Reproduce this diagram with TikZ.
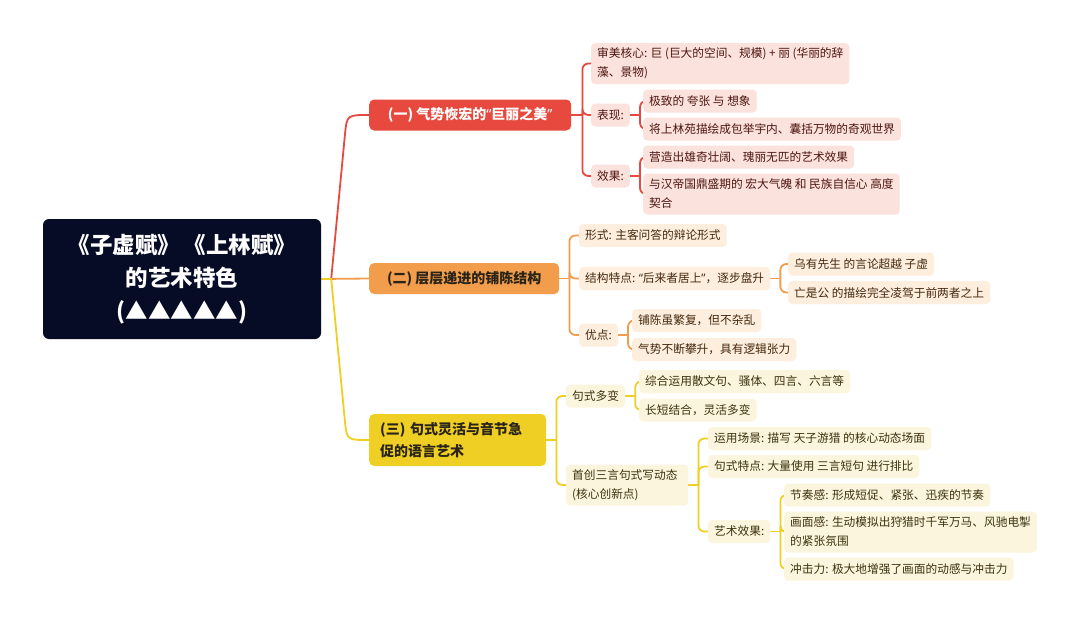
\documentclass[tikz,border=0pt]{standalone}
\usepackage{fontspec}
\setmainfont{Noto Sans CJK SC}
\newfontfamily\latinq{Noto Sans}
\newcommand{\myLQ}{{\latinq “}}
\newcommand{\myRQ}{{\latinq ”}}
\usetikzlibrary{calc,backgrounds}
\definecolor{rootc}{HTML}{060B26}
\definecolor{redc}{HTML}{E8493F}
\definecolor{orac}{HTML}{F29D4B}
\definecolor{yelc}{HTML}{F0CF24}
\definecolor{redl}{HTML}{FBE2DC}
\definecolor{oral}{HTML}{FDEEDD}
\definecolor{yell}{HTML}{FCF5DD}
\definecolor{redt}{HTML}{4E1510}
\definecolor{orat}{HTML}{45280E}
\definecolor{yelt}{HTML}{3C320E}
\definecolor{brt}{HTML}{2A2418}
\begin{document}
\begin{tikzpicture}[x=1pt,y=-1pt,
  leaf/.style={anchor=west, rounded corners=4pt, inner xsep=6pt, inner ysep=0pt,
    minimum height=23pt, font=\fontsize{11.7}{19}\selectfont},
  leafR/.style={leaf, fill=redl, text=redt},
  leafO/.style={leaf, fill=oral, text=orat},
  leafY/.style={leaf, fill=yell, text=yelt},
  twol/.style={align=left, minimum height=41pt, inner ysep=4pt},
  branch/.style={anchor=west, rounded corners=5pt, inner xsep=11pt, inner ysep=0pt,
    minimum height=31pt, font=\fontsize{14}{21.5}\selectfont\bfseries},
  rootbox/.style={fill=rootc, text=white, rounded corners=6pt, minimum width=278pt,
    minimum height=120pt, align=center, font=\fontsize{22.5}{33}\selectfont\bfseries},
  conn/.style={line width=1.8pt, rounded corners=6pt},
  mainc/.style={line width=1.8pt},
]
\useasboundingbox (0,0) rectangle (1080,624);

% root and branches
\node[rootbox] (root) at (182,279) {《子虚赋》\,《上林赋》\\的艺术特色\\(▲▲▲▲▲)};
\node[branch, fill=redc, text=white, minimum width=202pt] (b1) at (369,115) {(一) 气势恢宏的\myLQ 巨丽之美\myRQ};
\node[branch, fill=orac, text=brt, minimum width=190pt] (b2) at (369,278.5) {(二) 层层递进的铺陈结构};
\node[branch, fill=yelc, text=brt, text width=155pt, align=left, minimum height=52pt] (b3) at (369,440) {(三) 句式灵活与音节急\\促的语言艺术};

% branch 1 leaves
\node[leafR, twol] (a1) at (591,63.5) {审美核心: 巨 (巨大的空间、规模) + 丽 (华丽的辞\\藻、景物)};
\node[leafR] (a2) at (591,115) {表现:};
\node[leafR] (a3) at (591,176) {效果:};
\node[leafR] (a21) at (643,101) {极致的 夸张 与 想象};
\node[leafR] (a22) at (643,129) {将上林苑描绘成包举宇内、囊括万物的奇观世界};
\node[leafR] (a31) at (643,157) {营造出雄奇壮阔、瑰丽无匹的艺术效果};
\node[leafR, twol] (a32) at (643,194) {与汉帝国鼎盛期的 宏大气魄 和 民族自信心 高度\\契合};

% branch 2 leaves
\node[leafO] (o1) at (579,235.5) {形式: 主客问答的辩论形式};
\node[leafO] (o2) at (579,278.5) {结构特点: \myLQ 后来者居上\myRQ ，逐步盘升};
\node[leafO] (o3) at (579,335) {优点:};
\node[leafO] (o21) at (788,264) {乌有先生 的言论超越 子虚};
\node[leafO] (o22) at (788,292.5) {亡是公 的描绘完全凌驾于前两者之上};
\node[leafO] (o31) at (632,320.5) {铺陈虽繁复，但不杂乱};
\node[leafO] (o32) at (632,349.5) {气势不断攀升，具有逻辑张力};

% branch 3 leaves
\node[leafY] (y1) at (566,396) {句式多变};
\node[leafY, twol, text width=110pt] (y2) at (566,485) {首创三言句式写动态\\(核心创新点)};
\node[leafY] (y11) at (639,381.5) {综合运用散文句、骚体、四言、六言等};
\node[leafY] (y12) at (639,410) {长短结合，灵活多变};
\node[leafY] (y21) at (708,438.5) {运用场景: 描写 天子游猎 的核心动态场面};
\node[leafY] (y22) at (708,466.5) {句式特点: 大量使用 三言短句 进行排比};
\node[leafY] (y23) at (708,531.5) {艺术效果:};
\node[leafY] (y231) at (784,495) {节奏感: 形成短促、紧张、迅疾的节奏};
\node[leafY, twol] (y232) at (784,532) {画面感: 生动模拟出狩猎时千军万马、风驰电掣\\的紧张氛围};
\node[leafY] (y233) at (784,569) {冲击力: 极大地增强了画面的动感与冲击力};

\begin{scope}[on background layer]
\fill[white] (0,0) rectangle (1080,624);
% root connectors
\coordinate (rj) at ($(root.east)+(10,0)$);
\draw[mainc, orac] (root.east) -- (b2.west);
\draw[mainc, redc] (root.east) -- (rj) -- (345,134) .. controls (347,115) .. (b1.west);
\draw[mainc, yelc] (root.east) -- (rj) -- (345,422) .. controls (347,440) .. (b3.west);

% branch 1
\coordinate (j1) at ($(b1.east)+(11,0)$);
\draw[conn, redc] (b1.east) -- (j1);
\foreach \c in {a1,a2,a3} \draw[conn, redc] (j1) |- (\c.west);
\coordinate (j2) at ($(a2.east)+(10,0)$);
\draw[conn, redc] (a2.east) -- (j2);
\foreach \c in {a21,a22} \draw[conn, redc] (j2) |- (\c.west);
\coordinate (j3) at ($(a3.east)+(10,0)$);
\draw[conn, redc] (a3.east) -- (j3);
\foreach \c in {a31,a32} \draw[conn, redc] (j3) |- (\c.west);

% branch 2
\coordinate (k1) at ($(b2.east)+(10,0)$);
\draw[conn, orac] (b2.east) -- (k1);
\foreach \c in {o1,o2,o3} \draw[conn, orac] (k1) |- (\c.west);
\coordinate (k2) at ($(o2.east)+(10,0)$);
\draw[conn, orac] (o2.east) -- (k2);
\foreach \c in {o21,o22} \draw[conn, orac] (k2) |- (\c.west);
\coordinate (k3) at ($(o3.east)+(10,0)$);
\draw[conn, orac] (o3.east) -- (k3);
\foreach \c in {o31,o32} \draw[conn, orac] (k3) |- (\c.west);

% branch 3
\coordinate (m1) at ($(b3.east)+(10,0)$);
\draw[conn, yelc] (b3.east) -- (m1);
\foreach \c in {y1,y2} \draw[conn, yelc] (m1) |- (\c.west);
\coordinate (m2) at ($(y1.east)+(10,0)$);
\draw[conn, yelc] (y1.east) -- (m2);
\foreach \c in {y11,y12} \draw[conn, yelc] (m2) |- (\c.west);
\coordinate (m3) at ($(y2.east)+(10,0)$);
\draw[conn, yelc] (y2.east) -- (m3);
\foreach \c in {y21,y22,y23} \draw[conn, yelc] (m3) |- (\c.west);
\coordinate (m4) at ($(y23.east)+(10,0)$);
\draw[conn, yelc] (y23.east) -- (m4);
\foreach \c in {y231,y232,y233} \draw[conn, yelc] (m4) |- (\c.west);
\end{scope}
\end{tikzpicture}
\end{document}
